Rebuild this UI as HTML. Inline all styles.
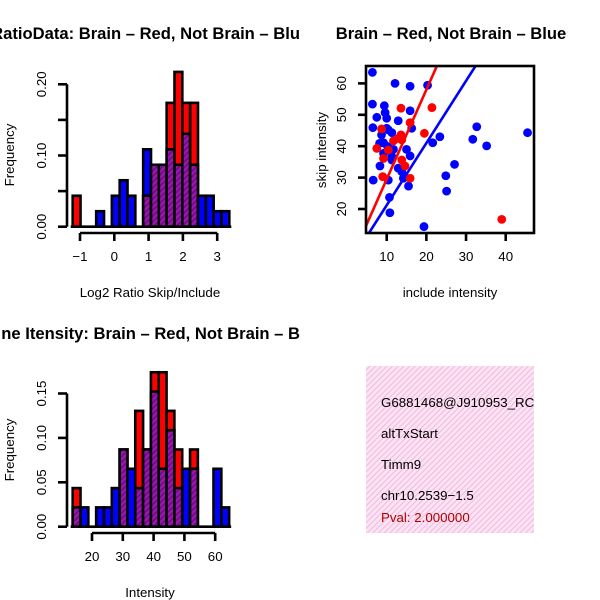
<!DOCTYPE html>
<html><head><meta charset="utf-8"><style>
html,body{margin:0;padding:0;background:#fff;}
svg{display:block;font-family:"Liberation Sans","DejaVu Sans",sans-serif;}
</style></head><body>
<svg id="c" width="600" height="600" viewBox="0 0 600 600">
<defs>
<pattern id="purp" width="4" height="4" patternUnits="userSpaceOnUse" patternTransform="rotate(45)">
<rect width="4" height="4" fill="#9a16b0"/><rect width="1.5" height="4" fill="#6d0a80"/>
</pattern>
<pattern id="pink" width="4" height="4" patternUnits="userSpaceOnUse" patternTransform="rotate(45)">
<rect width="4" height="4" fill="#fbe3f3"/><rect width="1" height="4" fill="#f2b8e0"/>
</pattern>
<clipPath id="scClip"><rect x="366" y="66" width="168" height="167"/></clipPath>
<clipPath id="boxClip"><rect x="366" y="366" width="168" height="167"/></clipPath>
</defs>
<text x="300" y="39" text-anchor="end" font-size="16.6" font-weight="bold">RatioData: Brain – Red, Not Brain – Blu</text>
<text x="451" y="39" text-anchor="middle" font-size="16.6" font-weight="bold">Brain – Red, Not Brain – Blue</text>
<text x="300" y="339" text-anchor="end" font-size="16.6" font-weight="bold">ne Itensity: Brain – Red, Not Brain – B</text>
<text x="150" y="297" text-anchor="middle" font-size="13.3">Log2 Ratio Skip/Include</text>
<text x="150" y="597" text-anchor="middle" font-size="13.3">Intensity</text>
<text x="450" y="297" text-anchor="middle" font-size="13.3">include intensity</text>
<text transform="translate(14,155) rotate(-90)" text-anchor="middle" font-size="13.3">Frequency</text>
<text transform="translate(14,450) rotate(-90)" text-anchor="middle" font-size="13.3">Frequency</text>
<text transform="translate(326,150) rotate(-90)" text-anchor="middle" font-size="13.3">skip intensity</text>
<g id="h1"></g>
<g id="h2"></g>
<g id="sc"></g>
<g clip-path="url(#boxClip)">
<rect x="366" y="366" width="168" height="167" fill="url(#pink)"/>
<text x="381" y="407" font-size="13.3">G6881468@J910953_RC</text>
<text x="381" y="438" font-size="13.3">altTxStart</text>
<text x="381" y="469" font-size="13.3">Timm9</text>
<text x="381" y="500" font-size="13.3">chr10.2539−1.5</text>
<text x="381" y="522" font-size="13.3" fill="#b00000">Pval: 2.000000</text>
</g>
</svg>
<script>
// ---- histogram 1 (log2 ratio) ----
const ratioRed  = [2,0,0,0,0,0,0,0,0,2,4,4,8,10,8,8,0,0,0,0];
const ratioBlue = [0,0,0,1,0,2,3,2,0,5,4,4,5,4,6,4,2,2,1,1];
const ratioTotal = 46;
const ratioBinStart = -1.213, ratioBinWidth = 0.2283;
const ratioXTicks = [-1,0,1,2,3];
const ratioYTicks = [0, 0.10, 0.20];
const ratioYMinor = [0.05, 0.15];
// ---- histogram 2 (intensity) ----
const intRed  = [2,0,0,0,0,0,4,0,6,4,8,8,6,4,0,4,0,0,0,0];
const intBlue = [1,1,0,1,1,2,4,3,2,4,7,3,5,2,3,3,0,0,3,1];
const intTotal = 46;
const intBinStart = 13.73, intBinWidth = 2.54;
const intXTicks = [20,30,40,50,60];
const intYTicks = [0,0.05,0.10,0.15];
// ---- scatter ----
const blueX = [6.4,12.1,15.9,20.3,6.4,9.4,15.9,9.6,7.5,10.0,12.9,6.5,10.0,10.4,11.3,16.3,8.2,9.2,10.2,11.7,9.2,11.3,15.0,15.9,8.3,12.9,13.8,14.2,15.5,6.6,10.4,21.6,23.4,32.7,31.7,35.2,27.1,24.9,25.1,10.7,10.8,19.4,45.5,8.7,11.3];
const blueY = [63.5,60.0,59.1,59.4,53.4,52.9,51.3,50.7,49.2,48.9,48.1,45.9,45.7,45.2,44.3,45.7,40.9,41.1,39.9,39.0,37.7,36.7,39.0,36.9,33.7,33.0,31.9,29.8,27.3,29.2,29.2,41.1,43.0,46.2,42.2,40.1,34.2,30.6,25.7,23.7,18.8,14.4,44.3,43.6,35.6];
const redX = [13.6,21.4,15.9,19.5,8.7,13.6,11.7,13.8,7.5,9.2,13.8,14.6,9.0,15.9,39.0,10.4,12.9];
const redY = [52.1,52.3,47.5,44.1,45.5,43.6,41.7,42.0,39.3,36.1,35.6,33.7,30.3,29.8,16.7,38.8,42.5];
const redFit = [1.0, 2.85];   // intercept, slope
const blueFit = [1.4, 1.98];
const scXTicks = [10,20,30,40];
const scYTicks = [20,30,40,50,60];

const NS = "http://www.w3.org/2000/svg";
function mk(tag, attrs, parent){ const e=document.createElementNS(NS,tag); for(const k in attrs) e.setAttribute(k,attrs[k]); parent.appendChild(e); return e; }
const BLK = "#000", SW = 2.6, FS = 13.3;

function hist(g, red, blue, total, bStart, bW, xs, ys, xTicks, yTicks, yMinor, axisY, xLabY){
  red.forEach((r,i)=>{
    const b = blue[i], x0 = xs(bStart+i*bW), x1 = xs(bStart+(i+1)*bW);
    const mx = Math.max(r,b), mn = Math.min(r,b);
    if(mx>0){
      const e = mk('rect',{x:x0,y:ys(mx/total),width:x1-x0,height:ys(0)-ys(mx/total),fill:r>=b?'#ff0000':'#0000ff',stroke:BLK,'stroke-width':SW},g);
      
      
    }
    if(mn>0){
      const e = mk('rect',{x:x0,y:ys(mn/total),width:x1-x0,height:ys(0)-ys(mn/total),fill:'url(#purp)',stroke:BLK,'stroke-width':SW},g);
      
      
    }
  });
  const bl = mk('line',{x1:xs(bStart)-2,x2:xs(bStart+red.length*bW)+2,y1:ys(0),y2:ys(0),stroke:BLK,'stroke-width':SW},g);
  
  
  const xa = mk('line',{x1:xs(xTicks[0]),x2:xs(xTicks[xTicks.length-1]),y1:axisY,y2:axisY,stroke:BLK,'stroke-width':SW},g);
  
  
  xTicks.forEach(v=>{
    mk('line',{x1:xs(v),x2:xs(v),y1:axisY,y2:axisY+8,stroke:BLK,'stroke-width':SW},g);
    const t = mk('text',{x:xs(v),y:xLabY,'text-anchor':'middle','font-size':FS},g);
    t.textContent = v<0 ? '−'+(-v) : v;
    
    
  });
  const all = yTicks.concat(yMinor).sort((a,b)=>a-b);
  const ya = mk('line',{x1:67,x2:67,y1:ys(all[0]),y2:ys(all[all.length-1]),stroke:BLK,'stroke-width':SW},g);
  
  
  all.forEach(v=>{ mk('line',{x1:58,x2:67,y1:ys(v),y2:ys(v),stroke:BLK,'stroke-width':SW},g); });
  yTicks.forEach(v=>{
    const t = mk('text',{transform:`translate(46,${ys(v)}) rotate(-90)`,'text-anchor':'middle','font-size':FS},g);
    t.textContent = v.toFixed(2);
    
    
  });
}

hist(document.getElementById('h1'), ratioRed, ratioBlue, ratioTotal, ratioBinStart, ratioBinWidth,
  v=>80+34.3*(v+1), v=>226.7-v*712, ratioXTicks, ratioYTicks, ratioYMinor, 233, 261);
hist(document.getElementById('h2'), intRed, intBlue, intTotal, intBinStart, intBinWidth,
  v=>92+3.08*(v-20), v=>526.7-v*888, intXTicks, intYTicks, [], 533, 561);

const sg = document.getElementById('sc');
const sx = v=>386.7+3.967*(v-10), sy = v=>209-(v-20)*3.14;
const pts = mk('g',{'clip-path':'url(#scClip)'},sg);
blueX.forEach((x,i)=>{
  const c = mk('circle',{cx:sx(x),cy:sy(blueY[i]),r:4.4,fill:'#0000ff'},pts);
  
  
});
redX.forEach((x,i)=>{
  const c = mk('circle',{cx:sx(x),cy:sy(redY[i]),r:4.4,fill:'#ff0000'},pts);
  
  
});
[[redFit,'#ff0000','fit-line-brain'],[blueFit,'#0000ff','fit-line-not-brain']].forEach(([f,col,nm])=>{
  const a=0,b=60;
  const l = mk('line',{x1:sx(a),y1:sy(f[0]+f[1]*a),x2:sx(b),y2:sy(f[0]+f[1]*b),stroke:col,'stroke-width':2.6},pts);
  
  
});
const fr = mk('rect',{x:366,y:66,width:168,height:167,fill:'none',stroke:BLK,'stroke-width':SW},sg);


scXTicks.forEach(v=>{
  mk('line',{x1:sx(v),x2:sx(v),y1:233,y2:241,stroke:BLK,'stroke-width':SW},sg);
  const t = mk('text',{x:sx(v),y:261,'text-anchor':'middle','font-size':FS},sg);
  t.textContent = v;
  
  
});
scYTicks.forEach(v=>{
  mk('line',{x1:358,x2:366,y1:sy(v),y2:sy(v),stroke:BLK,'stroke-width':SW},sg);
  const t = mk('text',{transform:`translate(346,${sy(v)}) rotate(-90)`,'text-anchor':'middle','font-size':FS},sg);
  t.textContent = v;
  
  
});
</script>
</body></html>
